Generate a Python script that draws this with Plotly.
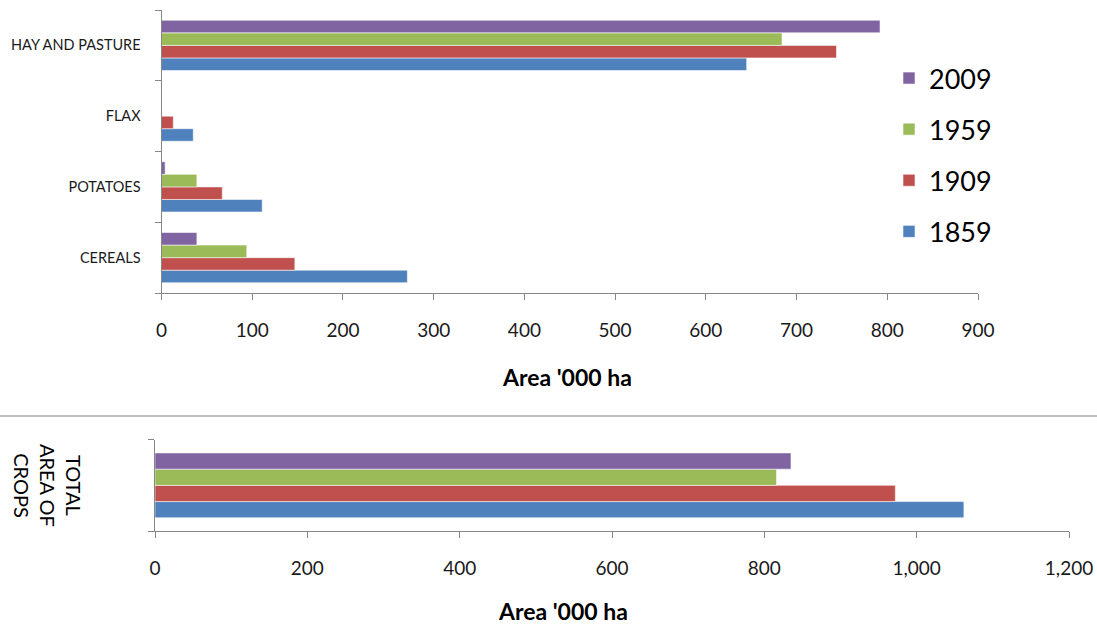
import plotly.graph_objects as go

# Crop areas, '000 ha
crops = ["CEREALS", "POTATOES", "FLAX", "HAY AND PASTURE"]
years = ["1859", "1909", "1959", "2009"]
area_1859 = [271, 111, 35, 645]
area_1909 = [147, 67, 13, 744]
area_1959 = [94, 39, 0, 684]
area_2009 = [39, 4, 0, 792]

total_label = ["TOTAL AREA OF CROPS"]
total_1859 = [1062]
total_1909 = [972]
total_1959 = [816]
total_2009 = [835]

colors = ["#4F81BD", "#C0504D", "#9BBB59", "#8064A2"]
W, H = 1097, 628
FONT = "Lato"
AXIS_GREY = "#868686"


def py(px):
    return 1 - px / H


def px_(x):
    return x / W


fig = go.Figure()

top_series = [area_1859, area_1909, area_1959, area_2009]
bottom_series = [total_1859, total_1909, total_1959, total_2009]

for i, (yr, vals, col) in enumerate(zip(years, top_series, colors)):
    fig.add_trace(go.Bar(
        y=crops, x=vals, name=yr, orientation="h",
        marker=dict(color=col, line=dict(color="rgba(255,255,255,0.55)", width=1)),
        xaxis="x", yaxis="y", legendgroup=yr, legendrank=10 - i,
        showlegend=True,
    ))

for yr, vals, col in zip(years, bottom_series, colors):
    fig.add_trace(go.Bar(
        y=total_label, x=vals, name=yr, orientation="h",
        marker=dict(color=col, line=dict(color="rgba(255,255,255,0.55)", width=1)),
        xaxis="x2", yaxis="y2", legendgroup=yr, showlegend=False,
    ))

axis_common = dict(
    showgrid=False, zeroline=False, showline=True, linecolor=AXIS_GREY,
    linewidth=1, ticks="outside", tickcolor=AXIS_GREY, ticklen=6,
    automargin=False,
)

fig.update_layout(
    width=W, height=H,
    margin=dict(l=0, r=0, t=0, b=0, autoexpand=False),
    paper_bgcolor="white", plot_bgcolor="white",
    barmode="group", bargap=0.29, bargroupgap=0,
    font=dict(family=FONT, color="#1a1a1a"),
    xaxis=dict(
        **axis_common, domain=[px_(161.5), px_(978)], range=[0, 900],
        dtick=100, anchor="y", tickfont=dict(size=19),
        ticklabelstandoff=14,
    ),
    yaxis=dict(
        **axis_common, domain=[py(293), py(10)], range=[-0.5, 3.5],
        anchor="x", tickson="boundaries", tickfont=dict(size=14.5),
        ticklabelstandoff=17,
    ),
    xaxis2=dict(
        **axis_common, domain=[px_(155), px_(1069)], range=[0, 1200],
        dtick=200, anchor="y2", tickformat=",d", tickfont=dict(size=19),
        ticklabelstandoff=14,
    ),
    yaxis2=dict(
        **axis_common, domain=[py(531), py(439.7)], range=[-0.5, 0.5],
        anchor="x2", tickson="boundaries", showticklabels=False,
    ),
    legend=dict(
        x=px_(889), y=py(54), xanchor="left", yanchor="top",
        traceorder="grouped", tracegroupgap=13,
        font=dict(size=27, family=FONT, color="black"),
        bgcolor="rgba(0,0,0,0)",
    ),
    shapes=[dict(
        type="line", xref="paper", yref="paper",
        x0=0, x1=1, y0=py(416), y1=py(416),
        line=dict(color="#BFBFBF", width=2),
    )],
    annotations=[
        dict(text="<b>Area '000 ha</b>", xref="paper", yref="paper",
             x=px_(567), y=py(377), xanchor="center", yanchor="middle",
             showarrow=False, font=dict(size=23, color="black")),
        dict(text="<b>Area '000 ha</b>", xref="paper", yref="paper",
             x=px_(563), y=py(611), xanchor="center", yanchor="middle",
             showarrow=False, font=dict(size=23, color="black")),
        dict(text="TOTAL<br>AREA OF<br>CROPS", xref="paper", yref="paper",
             x=px_(48), y=py(485), xanchor="center", yanchor="middle",
             showarrow=False, textangle=90,
             align="center", font=dict(size=20, color="black")),
    ],
)

fig.write_html("out.html")
